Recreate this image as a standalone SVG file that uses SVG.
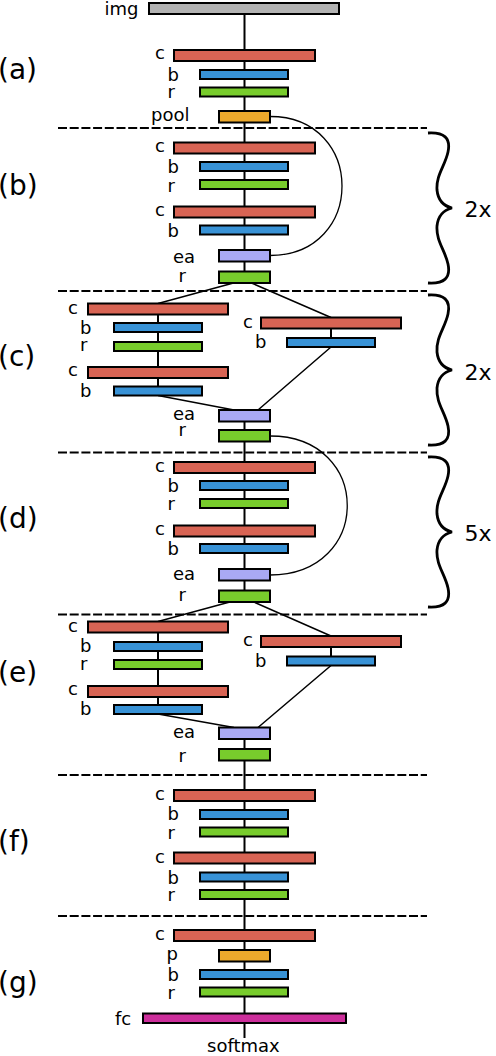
<svg xmlns="http://www.w3.org/2000/svg" width="496" height="1056" viewBox="0 0 496 1056">
<style>
text{font-family:"DejaVu Sans","Liberation Sans",sans-serif;font-size:18px;fill:#000}
.sec{font-size:28px}
.rep{font-size:22px}
rect{stroke:#000;stroke-width:2}
.img{fill:#b3b3b3}.c{fill:#d86454}.b{fill:#3892d6}.r{fill:#78cc2c}.p{fill:#eca92c}.ea{fill:#a9a9f4}.fc{fill:#cc2e9b}
.main{stroke:#000;stroke-width:2;fill:none}
.diag{stroke:#000;stroke-width:1.5;fill:none}
.skip{stroke:#000;stroke-width:1.3;fill:none}
.dash{stroke:#000;stroke-width:2;stroke-dasharray:9 2.7}
.brace{stroke:#000;stroke-width:2.8;fill:none}
</style>
<defs>
<path id="bracePath" d="M428,133 C444,132 451,138 448,152 C445,166 436,175 437,190 C438,200 444,206 452,208 C444,210 438,216 437,226 C436,241 445,250 448,264 C451,278 444,284 428,283"/>
</defs>
<g id="separators">
<line class="dash" x1="58" y1="128" x2="427" y2="128"/>
<line class="dash" x1="58" y1="291" x2="427" y2="291"/>
<line class="dash" x1="58" y1="452.5" x2="427" y2="452.5"/>
<line class="dash" x1="58" y1="614.5" x2="427" y2="614.5"/>
<line class="dash" x1="58" y1="775" x2="427" y2="775"/>
<line class="dash" x1="58" y1="916" x2="427" y2="916"/>
</g>
<g id="connectors">
<path class="main" d="M244.5,14 V283"/>
<path class="main" d="M244.5,410 V603"/>
<path class="main" d="M244.5,727.5 V1038"/>
<path class="main" d="M158,303.5 V395.5 M331,317.5 V347"/>
<path class="main" d="M158,621.5 V714 M331,636 V665.5"/>
<path class="diag" d="M244.5,280 L158,303.5 M244.5,280 L331,317.5"/>
<path class="diag" d="M158,395.5 L234,410 M331,347 L258,410"/>
<path class="diag" d="M244.5,598 L158,621.5 M244.5,598 L331,636"/>
<path class="diag" d="M158,714 L234,727.5 M331,665.5 L258,727.5"/>
<path class="skip" d="M270,116.5 C366,116.5 366,255.5 270,255.5"/>
<path class="skip" d="M270,436 C373,436 373,575 270,575"/>
</g>
<g id="braces">
<use href="#bracePath" class="brace"/>
<use href="#bracePath" class="brace" transform="translate(0,162)"/>
<use href="#bracePath" class="brace" transform="translate(0,324)"/>
<text class="rep" x="464.5" y="217">2x</text>
<text class="rep" x="464.5" y="380">2x</text>
<text class="rep" x="464.5" y="541">5x</text>
</g>
<g id="section-labels">
<text class="sec" x="-2" y="79">(a)</text>
<text class="sec" x="-2" y="195">(b)</text>
<text class="sec" x="-2" y="365.5">(c)</text>
<text class="sec" x="-2" y="527.5">(d)</text>
<text class="sec" x="-2" y="682">(e)</text>
<text class="sec" x="-2" y="850.5">(f)</text>
<text class="sec" x="-2" y="992">(g)</text>
</g>
<g id="img"><rect class="img" x="149" y="3" width="190" height="11"/><text x="104.5" y="15">img</text></g>
<g id="a_c"><rect class="c" x="174" y="50" width="141" height="11"/><text x="155" y="59">c</text></g>
<g id="a_b"><rect class="b" x="200" y="70" width="88" height="9"/><text x="167.5" y="80.5">b</text></g>
<g id="a_r"><rect class="r" x="200" y="87.5" width="88" height="9"/><text x="167.5" y="97.5">r</text></g>
<g id="a_pool"><rect class="p" x="219" y="111" width="51" height="11.5"/><text x="151" y="121">pool</text></g>
<g id="b_c1"><rect class="c" x="174" y="142.5" width="141" height="11"/><text x="155" y="151.7">c</text></g>
<g id="b_b1"><rect class="b" x="200" y="162" width="88" height="9"/><text x="167.5" y="173">b</text></g>
<g id="b_r1"><rect class="r" x="200" y="180" width="88" height="9"/><text x="167.5" y="191.5">r</text></g>
<g id="b_c2"><rect class="c" x="174" y="206.5" width="141" height="11"/><text x="155" y="215.5">c</text></g>
<g id="b_b2"><rect class="b" x="200" y="225.5" width="88" height="9"/><text x="167.5" y="236.5">b</text></g>
<g id="b_ea"><rect class="ea" x="219" y="250" width="51" height="11.5"/><text x="173" y="262.5">ea</text></g>
<g id="b_r2"><rect class="r" x="219" y="271.5" width="51" height="11.5"/><text x="178.5" y="281.5">r</text></g>
<g id="c_lc1"><rect class="c" x="88" y="303.5" width="140" height="11"/><text x="68" y="313.5">c</text></g>
<g id="c_lb1"><rect class="b" x="114" y="323" width="88" height="9"/><text x="80" y="333.5">b</text></g>
<g id="c_lr1"><rect class="r" x="114" y="342" width="88" height="9"/><text x="80" y="351">r</text></g>
<g id="c_lc2"><rect class="c" x="88" y="367" width="140" height="11"/><text x="68" y="375.5">c</text></g>
<g id="c_lb2"><rect class="b" x="114" y="386.5" width="88" height="9"/><text x="80" y="396.5">b</text></g>
<g id="c_rc"><rect class="c" x="261" y="317.5" width="140" height="11"/><text x="243" y="327.5">c</text></g>
<g id="c_rb"><rect class="b" x="287" y="338" width="88" height="9"/><text x="255" y="347.5">b</text></g>
<g id="c_ea"><rect class="ea" x="219" y="410" width="51" height="11.5"/><text x="173" y="419.5">ea</text></g>
<g id="c_r"><rect class="r" x="219" y="430" width="51" height="11.5"/><text x="178.5" y="436">r</text></g>
<g id="d_c1"><rect class="c" x="174" y="462" width="141" height="11"/><text x="155" y="471.5">c</text></g>
<g id="d_b1"><rect class="b" x="200" y="481" width="88" height="9"/><text x="167.5" y="491.5">b</text></g>
<g id="d_r1"><rect class="r" x="200" y="499" width="88" height="9"/><text x="167.5" y="509.5">r</text></g>
<g id="d_c2"><rect class="c" x="174" y="525.5" width="141" height="11"/><text x="155" y="534.5">c</text></g>
<g id="d_b2"><rect class="b" x="200" y="544" width="88" height="9"/><text x="167.5" y="554.5">b</text></g>
<g id="d_ea"><rect class="ea" x="219" y="569" width="51" height="11.5"/><text x="173" y="579.5">ea</text></g>
<g id="d_r2"><rect class="r" x="219" y="590.5" width="51" height="11.5"/><text x="178.5" y="600.5">r</text></g>
<g id="e_lc1"><rect class="c" x="88" y="621.5" width="140" height="11"/><text x="68" y="631.5">c</text></g>
<g id="e_lb1"><rect class="b" x="114" y="642" width="88" height="9"/><text x="80" y="651.5">b</text></g>
<g id="e_lr1"><rect class="r" x="114" y="660" width="88" height="9"/><text x="80" y="670">r</text></g>
<g id="e_lc2"><rect class="c" x="88" y="686" width="140" height="11"/><text x="68" y="695">c</text></g>
<g id="e_lb2"><rect class="b" x="114" y="705" width="88" height="9"/><text x="80" y="715">b</text></g>
<g id="e_rc"><rect class="c" x="261" y="636" width="140" height="11"/><text x="243" y="645.5">c</text></g>
<g id="e_rb"><rect class="b" x="287" y="656.5" width="88" height="9"/><text x="255" y="666.5">b</text></g>
<g id="e_ea"><rect class="ea" x="219" y="727.5" width="51" height="11.5"/><text x="173" y="737.5">ea</text></g>
<g id="e_r"><rect class="r" x="219" y="749" width="51" height="11.5"/><text x="178.5" y="762">r</text></g>
<g id="f_c1"><rect class="c" x="174" y="790" width="141" height="11"/><text x="155" y="799.5">c</text></g>
<g id="f_b1"><rect class="b" x="200" y="810" width="88" height="9"/><text x="167.5" y="820">b</text></g>
<g id="f_r1"><rect class="r" x="200" y="827.5" width="88" height="9"/><text x="167.5" y="838.5">r</text></g>
<g id="f_c2"><rect class="c" x="174" y="852.5" width="141" height="11"/><text x="155" y="862.5">c</text></g>
<g id="f_b2"><rect class="b" x="200" y="872.5" width="88" height="9"/><text x="167.5" y="883.5">b</text></g>
<g id="f_r2"><rect class="r" x="200" y="890" width="88" height="9"/><text x="167.5" y="901">r</text></g>
<g id="g_c"><rect class="c" x="174" y="930" width="141" height="11"/><text x="155" y="940">c</text></g>
<g id="g_p"><rect class="p" x="219" y="950" width="51" height="11.5"/><text x="166.5" y="960">p</text></g>
<g id="g_b"><rect class="b" x="200" y="970" width="88" height="9"/><text x="167.5" y="981">b</text></g>
<g id="g_r"><rect class="r" x="200" y="987.5" width="88" height="9"/><text x="167.5" y="998.5">r</text></g>
<g id="g_fc"><rect class="fc" x="143" y="1013.5" width="203" height="9.5"/><text x="115" y="1024.5">fc</text></g>
<g id="softmax"><text x="207" y="1052">softmax</text></g>
</svg>
